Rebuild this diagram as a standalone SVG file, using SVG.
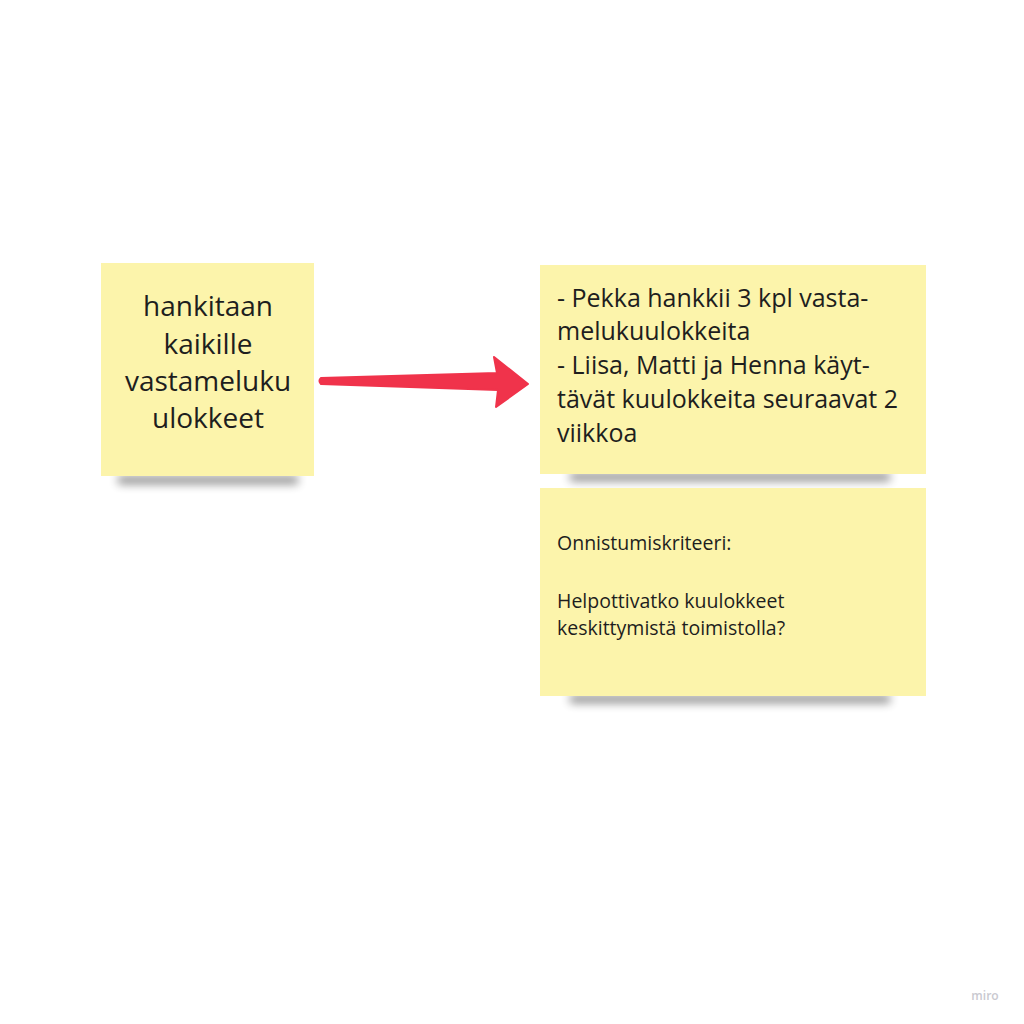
<svg xmlns="http://www.w3.org/2000/svg" width="1024" height="1024" viewBox="0 0 1024 1024">
<defs>
<filter id="sh" x="-20%" y="-200%" width="140%" height="500%"><feGaussianBlur stdDeviation="5"/></filter>
<style>
.note{fill:#fcf4ab}
.shadow{fill:#000;opacity:0.45;filter:url(#sh)}
.t{font-family:"Open Sans","Noto Sans",sans-serif;fill:#1e1e1e}
</style>
</defs>
<rect width="1024" height="1024" fill="#ffffff"/>
<g id="note1">
<rect class="shadow" x="118" y="476" width="180" height="8"/>
<rect class="note" x="101" y="263" width="213" height="213"/>
<text class="t" font-size="28" text-anchor="middle" x="208"><tspan x="208" y="316">hankitaan</tspan><tspan x="208" y="354">kaikille</tspan><tspan x="208" y="391">vastameluku</tspan><tspan x="208" y="428">ulokkeet</tspan></text>
</g>
<g id="note2">
<rect class="shadow" x="570" y="473" width="320" height="8"/>
<rect class="note" x="540" y="265" width="386" height="209"/>
<text class="t" font-size="25"><tspan x="557" y="307">- Pekka hankkii 3 kpl vasta-</tspan><tspan x="557" y="340">melukuulokkeita</tspan><tspan x="557" y="374">- Liisa, Matti ja Henna käyt-</tspan><tspan x="557" y="408">tävät kuulokkeita seuraavat 2</tspan><tspan x="557" y="442">viikkoa</tspan></text>
</g>
<g id="note3">
<rect class="shadow" x="570" y="695" width="320" height="8"/>
<rect class="note" x="540" y="488" width="386" height="208"/>
<text class="t" font-size="19.5" x="557" y="550">Onnistumiskriteeri:</text>
<text class="t" font-size="19.5" x="557" y="608">Helpottivatko kuulokkeet</text>
<text class="t" font-size="19.5" x="557" y="635">keskittymistä toimistolla?</text>
</g>
<g id="connectors">
<path d="M321,378 L497,373 L494,357 L528,384 L496,407 L498,390 L321,384 Q318,381 321,378 Z" fill="#f0334b" stroke="#f0334b" stroke-width="2" stroke-linejoin="round"/>
</g>
<text x="985" y="1000" font-family="Open Sans, sans-serif" font-size="12" font-weight="600" fill="#c9c9d0" text-anchor="middle">miro</text>
</svg>
